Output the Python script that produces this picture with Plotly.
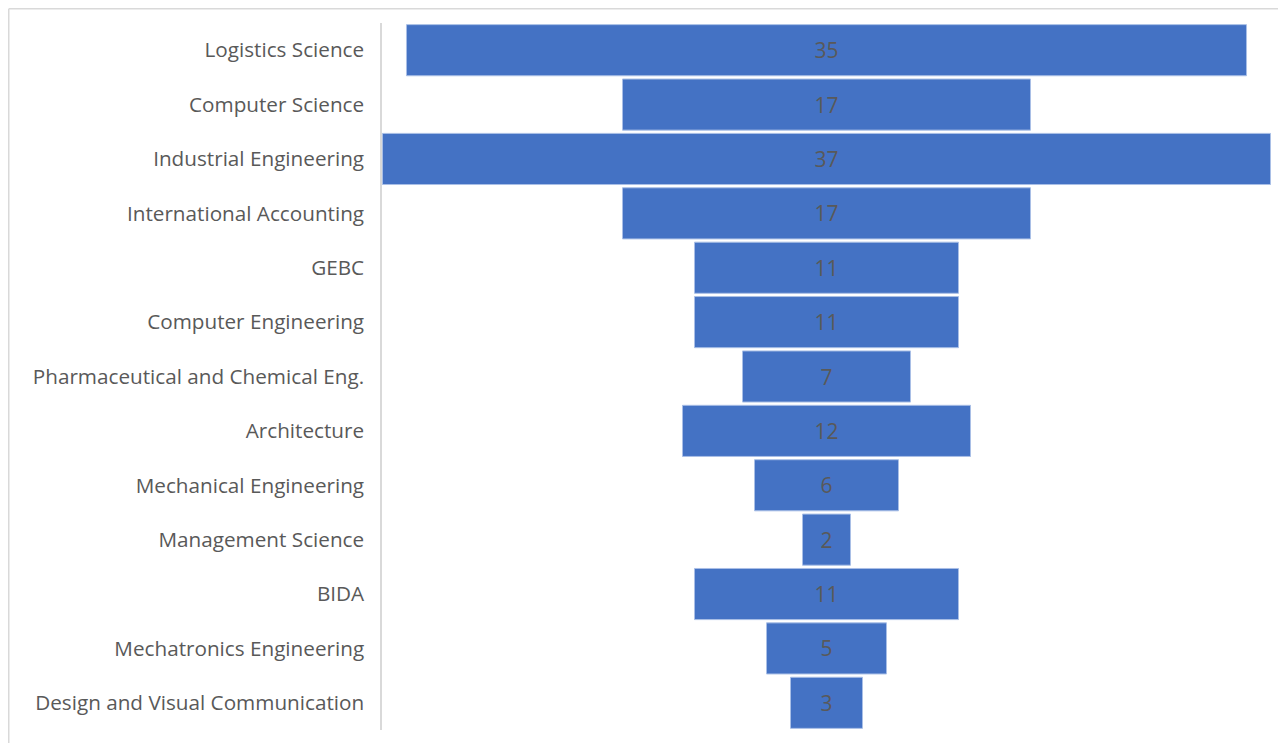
import plotly.graph_objects as go

categories = ["Logistics Science", "Computer Science", "Industrial Engineering",
              "International Accounting", "GEBC", "Computer Engineering",
              "Pharmaceutical and Chemical Eng.", "Architecture",
              "Mechanical Engineering", "Management Science", "BIDA",
              "Mechatronics Engineering", "Design and Visual Communication"]
values = [35, 17, 37, 17, 11, 11, 7, 12, 6, 2, 11, 5, 3]

OFF = 8  # page offset of the figure in the browser
W, H = 1286 - OFF, 743 - OFF
ml, mr, mt, mb = 382 - OFF, 15, 23 - OFF, 13
pw, ph = W - ml - mr, H - mt - mb

fig = go.Figure(go.Funnel(
    y=categories, x=values,
    marker=dict(color="#4472C4", line=dict(color="#A9BFE6", width=1)),
    connector=dict(visible=False),
    textinfo="value", textposition="inside",
    textfont=dict(color="#595959", size=21, family="Open Sans"),
    insidetextanchor="middle",
))

def fx(p):  # figure pixel -> paper x
    return (p - ml) / pw

def fy(p):  # figure pixel -> paper y
    return 1 - (p - mt) / ph

border = dict(color="#D9D9D9", width=1.5)
fig.update_layout(
    width=W, height=H,
    margin=dict(l=ml, r=mr, t=mt, b=mb),
    paper_bgcolor="white", plot_bgcolor="white",
    showlegend=False,
    font=dict(family="Open Sans", size=17, color="#595959"),
    xaxis=dict(visible=False, range=[-18.52, 18.52], fixedrange=True),
    yaxis=dict(showline=True, linecolor="#D9D9D9", linewidth=1.5,
               ticks="", ticklabelstandoff=12, autorange="reversed",
               tickfont=dict(size=20.7, color="#595959", family="Open Sans")),
    funnelgap=0.06,
    shapes=[
        dict(type="line", xref="paper", yref="paper",
             x0=fx(0.75), x1=fx(0.75), y0=fy(H + 5), y1=fy(0.75),
             line=border, layer="below"),
        dict(type="line", xref="paper", yref="paper",
             x0=fx(0.75), x1=fx(W + 5), y0=fy(0.75), y1=fy(0.75),
             line=border, layer="below"),
    ],
)

fig.write_html("out.html")
